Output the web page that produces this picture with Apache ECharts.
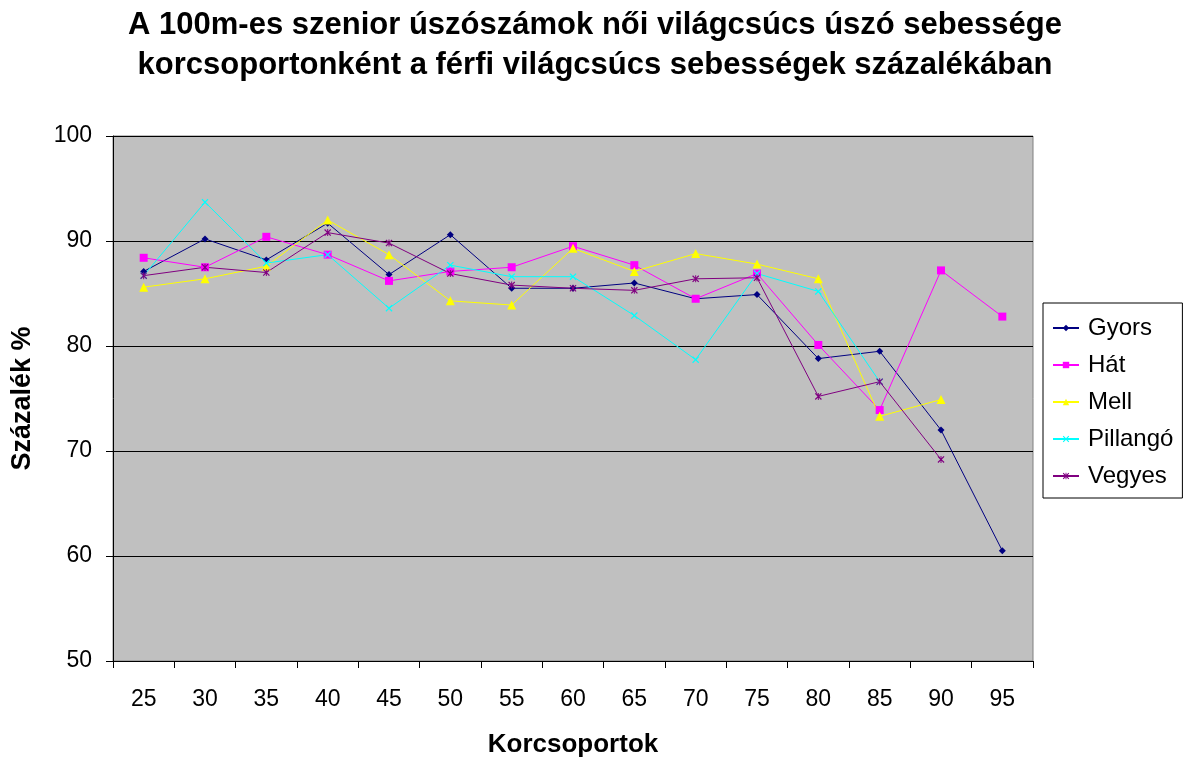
<!DOCTYPE html>
<html>
<head>
<meta charset="utf-8">
<script src="https://cdn.jsdelivr.net/npm/echarts@6/dist/echarts.min.js"></script>
<style>html,body{margin:0;padding:0;background:#fff}#c{width:1188px;height:767px}</style>
</head>
<body>
<div id="c"></div>
<script>
const categories = ['25','30','35','40','45','50','55','60','65','70','75','80','85','90','95'];
const gyors    = [87.1, 90.2, 88.2, 91.7, 86.8, 90.6, 85.5, 85.5, 86.0, 84.5, 84.9, 78.8, 79.5, 72.0, 60.5];
const hat      = [88.4, 87.5, 90.4, 88.7, 86.2, 87.1, 87.5, 89.5, 87.7, 84.5, 86.9, 80.1, 73.9, 87.2, 82.8];
const mell     = [85.6, 86.4, 87.6, 92.0, 88.7, 84.3, 83.9, 89.3, 87.1, 88.8, 87.8, 86.4, 73.3, 74.9, null];
const pillango = [86.7, 93.7, 87.9, 88.7, 83.6, 87.7, 86.6, 86.6, 82.9, 78.7, 86.9, 85.2, 76.6, null, null];
const vegyes   = [86.7, 87.5, 87.0, 90.8, 89.8, 86.9, 85.8, 85.5, 85.3, 86.4, 86.5, 75.2, 76.6, 69.2, null];
const yTicks = [50, 60, 70, 80, 90, 100];

const FONT = 'Arial, "Liberation Sans", sans-serif';
const xPath = 'path://M0,1.2L1.2,0L5,3.8L8.8,0L10,1.2L6.2,5L10,8.8L8.8,10L5,6.2L1.2,10L0,8.8L3.8,5Z';
const starPath = 'path://M0,1.2L1.2,0L5,3.8L8.8,0L10,1.2L6.2,5L10,8.8L8.8,10L5,6.2L1.2,10L0,8.8L3.8,5Z M4.3,0L5.7,0L5.7,10L4.3,10Z';

function mk(name, data, color, symbol, size) {
  return {
    name, type: 'line', data, symbol, symbolSize: size, showSymbol: true,
    connectNulls: false,
    lineStyle: { color, width: 1 },
    itemStyle: { color },
    emphasis: { disabled: true },
    animation: false
  };
}

const chart = echarts.init(document.getElementById('c'), null, { renderer: 'canvas' });
chart.setOption({
  animation: false,
  backgroundColor: '#ffffff',
  textStyle: { fontFamily: FONT },
  title: {
    text: 'A 100m-es szenior úszószámok női világcsúcs úszó sebessége\nkorcsoportonként a férfi világcsúcs sebességek százalékában',
    left: 590, textAlign: 'center', top: 0,
    textStyle: { fontFamily: FONT, fontSize: 31, fontWeight: 'bold', color: '#000', lineHeight: 40 }
  },
  grid: {
    left: 113, top: 136, width: 920, height: 525,
    show: true, backgroundColor: '#c0c0c0', borderColor: '#808080', borderWidth: 1
  },
  legend: {
    orient: 'vertical', left: 1043, top: 303,
    data: ['Gyors', 'Hát', 'Mell', 'Pillangó', 'Vegyes'],
    backgroundColor: '#ffffff', borderColor: '#000', borderWidth: 1,
    padding: [13, 9, 10, 9], itemGap: 13, itemWidth: 26, itemHeight: 8,
    textStyle: { fontFamily: FONT, fontSize: 24, color: '#000', padding: [0, 0, 0, 4] },
    selectedMode: false
  },
  xAxis: {
    type: 'category', data: categories, boundaryGap: true,
    name: 'Korcsoportok', nameLocation: 'middle', nameGap: 71,
    nameTextStyle: { fontFamily: FONT, fontSize: 26, fontWeight: 'bold', color: '#000' },
    axisLine: { show: true, lineStyle: { color: '#000', width: 1 } },
    axisTick: { show: true, interval: 0, length: 7, lineStyle: { color: '#000' } },
    axisLabel: { interval: 0, fontFamily: FONT, fontSize: 23, color: '#000', margin: 27 },
    splitLine: { show: false }
  },
  yAxis: {
    type: 'value', min: 50, max: 100, interval: 10,
    name: 'Százalék %', nameLocation: 'middle', nameGap: 77, nameRotate: 90,
    nameTextStyle: { fontFamily: FONT, fontSize: 27, fontWeight: 'bold', color: '#000' },
    axisLine: { show: true, lineStyle: { color: '#000', width: 1 } },
    axisTick: { show: true, length: 7, lineStyle: { color: '#000' } },
    axisLabel: { fontFamily: FONT, fontSize: 23, color: '#000', margin: 21,
      formatter: v => yTicks.includes(v) ? String(v) : '' },
    splitLine: { show: true, lineStyle: { color: '#000', width: 1 } }
  },
  series: [
    mk('Gyors', gyors, '#000080', 'diamond', 7),
    mk('Hát', hat, '#ff00ff', 'rect', 8),
    mk('Mell', mell, '#ffff00', 'triangle', 9),
    mk('Pillangó', pillango, '#00ffff', xPath, 7),
    mk('Vegyes', vegyes, '#800080', starPath, 7)
  ]
});
</script>
</body>
</html>
